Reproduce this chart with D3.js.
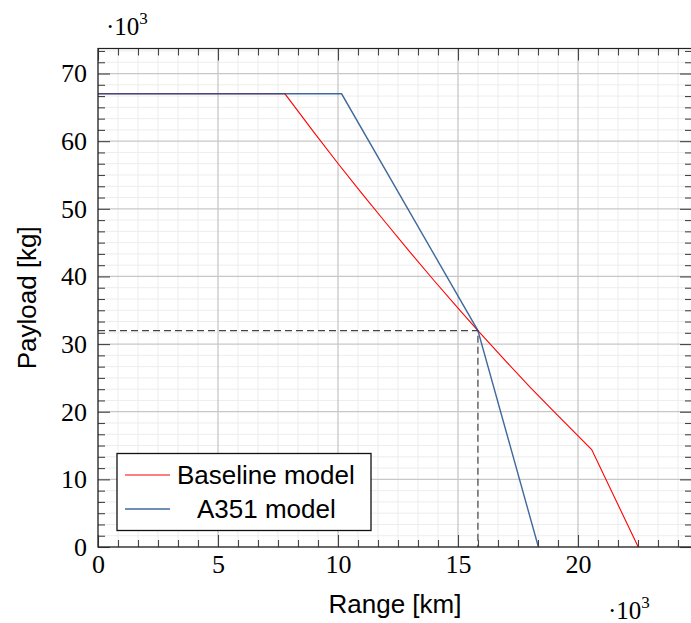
<!DOCTYPE html>
<meta charset="utf-8">
<style>
body { margin: 0; background: #fff; }
.tick text { font-family: "Liberation Serif", serif; font-size: 26px; fill: #000; }
.tick line { stroke: #444; stroke-width: 1.1px; }
.label { font-family: "Liberation Sans", Arial, sans-serif; font-size: 26px; fill: #000; }
</style>
<body>
<svg width="691" height="623"></svg>
<script src="https://d3js.org/d3.v7.min.js"></script>
<script>

// data (values in thousands)
var rangeTicks = [0, 5, 10, 15, 20];
var payloadTicks = [0, 10, 20, 30, 40, 50, 60, 70];

var baselineRange   = [0, 7.79, 9, 10, 11, 12, 13, 14, 15, 15.83, 17, 18, 19, 20.57, 22.51];
var baselinePayload = [67, 67, 61.3, 56.7, 52.25, 47.9, 43.6, 39.4, 35.3, 32, 27.45, 23.65, 20, 14.4, 0];

var a351Range   = [0, 10.15, 15.83, 18.35];
var a351Payload = [67, 67, 32, 0];

var crossRange = 15.83, crossPayload = 32;

var legendNames = ["Baseline model", "A351 model"];
var colors = ["#ff0000", "#1f4f8b"];

var svg = d3.select("svg"),
    pLeft = 98, pRight = 692, pTop = 48.5, pBottom = 547;

var x = d3.scaleLinear().domain([0, 24.75]).range([pLeft, pRight]);
var y = d3.scaleLinear().domain([0, 73.7]).range([pBottom, pTop]);

var xMinor = d3.range(0, 24.75, 5 / 6).filter(function(d) { return Math.abs(d / 5 - Math.round(d / 5)) > 1e-6; });
var yMinor = d3.range(0, 73.7, 10 / 6).filter(function(d) { return Math.abs(d / 10 - Math.round(d / 10)) > 1e-6; });

// grid
var grid = svg.append("g");
grid.selectAll(".vm").data(xMinor).enter().append("line")
    .attr("x1", x).attr("x2", x).attr("y1", pTop).attr("y2", pBottom)
    .attr("stroke", "#ededed");
grid.selectAll(".hm").data(yMinor).enter().append("line")
    .attr("y1", y).attr("y2", y).attr("x1", pLeft).attr("x2", pRight)
    .attr("stroke", "#ededed");
grid.selectAll(".vM").data(rangeTicks).enter().append("line")
    .attr("x1", x).attr("x2", x).attr("y1", pTop).attr("y2", pBottom)
    .attr("stroke", "#c8c8c8").attr("stroke-width", 1.3);
grid.selectAll(".hM").data(payloadTicks).enter().append("line")
    .attr("y1", y).attr("y2", y).attr("x1", pLeft).attr("x2", pRight)
    .attr("stroke", "#c8c8c8").attr("stroke-width", 1.3);

// dashed guide to crossing point
svg.append("path")
    .attr("d", d3.line()([[x(0), y(crossPayload)], [x(crossRange), y(crossPayload)], [x(crossRange), y(0)]]))
    .attr("fill", "none").attr("stroke", "#444").attr("stroke-width", 1.2)
    .attr("stroke-dasharray", "7,4");

// curves
var line = d3.line().x(function(d) { return x(d[0]); }).y(function(d) { return y(d[1]); });
svg.append("path")
    .datum(d3.zip(baselineRange, baselinePayload))
    .attr("d", line).attr("fill", "none").attr("stroke", colors[0]).attr("stroke-width", 1.1);
svg.append("path")
    .datum(d3.zip(a351Range, a351Payload))
    .attr("d", line).attr("fill", "none").attr("stroke", colors[1]).attr("stroke-width", 1.4)
    .attr("stroke-opacity", 0.85);

// axes, ticks inside on all four sides
function clean(g) { g.select(".domain").remove(); }
svg.append("g").attr("transform", "translate(0," + pBottom + ")")
    .call(d3.axisBottom(x).tickValues(rangeTicks).tickSize(-12).tickPadding(8).tickFormat(d3.format("d"))).call(clean);
svg.append("g").attr("transform", "translate(0," + pBottom + ")")
    .call(d3.axisBottom(x).tickValues(xMinor).tickSize(-7).tickFormat("")).call(clean);
svg.append("g").attr("transform", "translate(0," + pTop + ")")
    .call(d3.axisTop(x).tickValues(rangeTicks).tickSize(-12).tickFormat("")).call(clean);
svg.append("g").attr("transform", "translate(0," + pTop + ")")
    .call(d3.axisTop(x).tickValues(xMinor).tickSize(-7).tickFormat("")).call(clean);
svg.append("g").attr("transform", "translate(" + pLeft + ",0)")
    .call(d3.axisLeft(y).tickValues(payloadTicks).tickSize(-12).tickPadding(11).tickFormat(d3.format("d"))).call(clean);
svg.append("g").attr("transform", "translate(" + pLeft + ",0)")
    .call(d3.axisLeft(y).tickValues(yMinor).tickSize(-7).tickFormat("")).call(clean);
svg.append("g").attr("transform", "translate(" + pRight + ",0)")
    .call(d3.axisRight(y).tickValues(payloadTicks).tickSize(-12).tickFormat("")).call(clean);
svg.append("g").attr("transform", "translate(" + pRight + ",0)")
    .call(d3.axisRight(y).tickValues(yMinor).tickSize(-7).tickFormat("")).call(clean);

svg.append("rect")
    .attr("x", pLeft).attr("y", pTop).attr("width", pRight - pLeft).attr("height", pBottom - pTop)
    .attr("fill", "none").attr("stroke", "#222").attr("stroke-width", 1.2);

// axis labels
svg.append("text").attr("class", "label")
    .attr("x", (pLeft + pRight) / 2).attr("y", 612.5).attr("text-anchor", "middle")
    .text("Range [km]");
svg.append("text").attr("class", "label")
    .attr("transform", "translate(35.5," + (pTop + pBottom) / 2 + ") rotate(-90)")
    .attr("text-anchor", "middle")
    .text("Payload [kg]");

// scale factors
function expo(px, py) {
  var t = svg.append("text").attr("x", px).attr("y", py)
      .style("font-family", "Liberation Serif, serif").style("font-size", "25px");
  t.append("tspan").text("\u00b710");
  t.append("tspan").attr("dy", -11).style("font-size", "17px").text("3");
}
expo(106, 35);
expo(608, 619);

// legend
var lg = svg.append("g");
lg.append("rect").attr("x", 117).attr("y", 453.5).attr("width", 254).attr("height", 77)
    .attr("fill", "#fff").attr("stroke", "#111").attr("stroke-width", 1.3);
var rows = lg.selectAll(".row").data(legendNames).enter().append("g")
    .attr("transform", function(d, i) { return "translate(0," + (475 + i * 34) + ")"; });
rows.append("line").attr("x1", 125).attr("x2", 170)
    .attr("stroke", function(d, i) { return colors[i]; })
    .attr("stroke-width", function(d, i) { return i ? 1.4 : 1.1; })
    .attr("stroke-opacity", function(d, i) { return i ? 0.85 : 1; });
rows.append("text").attr("class", "label")
    .attr("x", function(d, i) { return i ? 197 : 177; }).attr("y", 8.5)
    .text(function(d) { return d; });

</script>
</body>
